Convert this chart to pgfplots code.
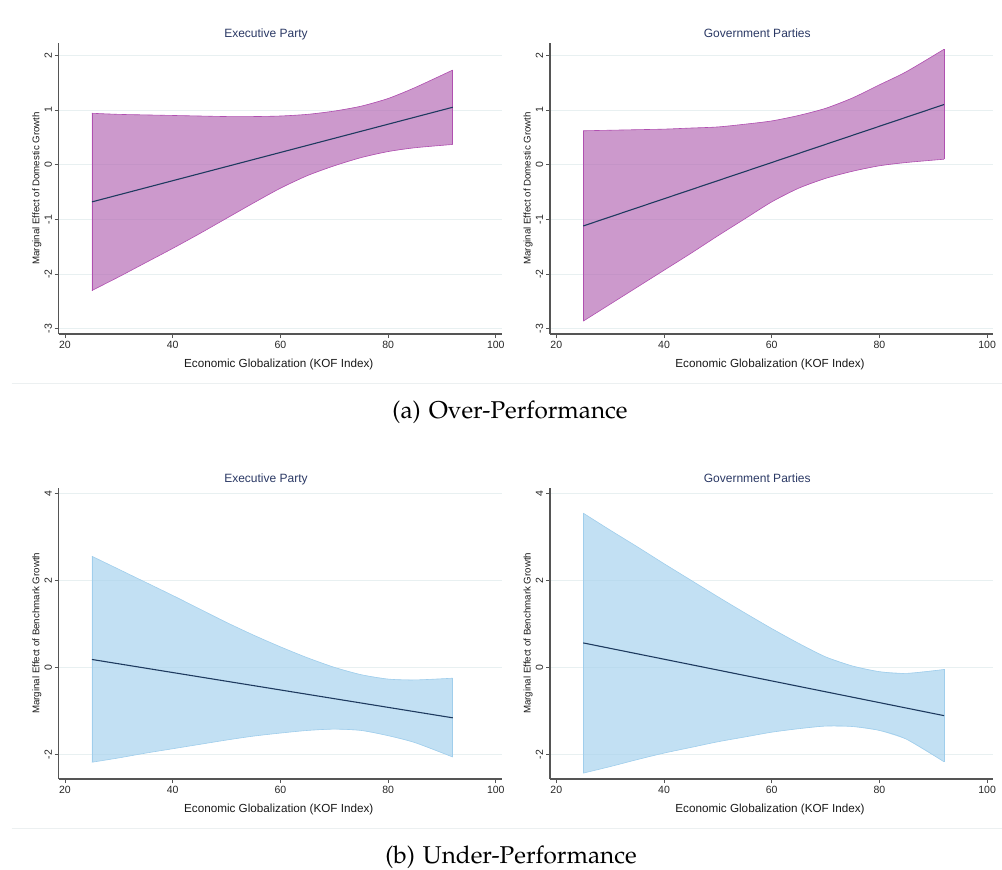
\documentclass[border=0pt]{standalone}
\usepackage[T1]{fontenc}
\usepackage{fontspec}
\setmainfont{Liberation Sans}
\usepackage{pgfplots}
\pgfplotsset{compat=1.18}

\definecolor{bandP}{RGB}{182,109,182}
\definecolor{bandPedge}{RGB}{176,80,176}
\definecolor{bandB}{RGB}{168,211,238}
\definecolor{bandBedge}{RGB}{160,206,236}
\definecolor{navyline}{RGB}{30,58,95}
\definecolor{titlecol}{RGB}{42,56,100}
\definecolor{gridc}{RGB}{232,240,241}
\definecolor{axisc}{RGB}{85,85,85}
\definecolor{sepc}{RGB}{236,240,241}

\pgfplotsset{
  stata/.style={
    scale only axis, width=443.1pt, height=291.3pt,
    xmin=18.83, xmax=101.11,
    axis x line*=bottom, axis y line*=left,
    axis line style={draw=axisc, line width=1.2pt},
    xtick={20,40,60,80,100},
    xticklabels={20,40,60,80,100},
    tick align=outside, major tick length=4pt,
    tick style={draw=axisc, line width=0.9pt},
    ymajorgrids, grid style={draw=gridc, line width=0.9pt},
    ticklabel style={font=\fontsize{10.5}{12}\selectfont, text=black!85},
    xticklabel style={anchor=north, inner ysep=3pt},
    yticklabel style={rotate=90, anchor=south, inner ysep=2.6pt, inner xsep=0pt},
    every axis title/.style={at={(axis description cs:0.5,1)}, anchor=base, yshift=5.4pt, xshift=-14.3pt,
      font=\fontsize{12}{14}\selectfont, text=titlecol},
    every axis x label/.style={at={(axis description cs:0.5,0)}, anchor=base, yshift=-33.6pt, xshift=-1.5pt,
      font=\fontsize{11.7}{14}\selectfont, text=black!90},
    every axis y label/.style={at={(axis description cs:-0.0438,0.5)}, rotate=90, anchor=base,
      font=\fontsize{9.7}{12}\selectfont, text=black!90},
    xlabel={Economic Globalization (KOF Index)},
  },
  over/.style={stata, ymin=-3.095, ymax=2.23, ytick={-3,-2,-1,0,1,2}, yticklabels={-3,-2,-1,0,1,2},
    ylabel={Marginal Effect of Domestic Growth}},
  under/.style={stata, ymin=-2.565, ymax=4.124, ytick={-2,0,2,4}, yticklabels={-2,0,2,4},
    ylabel={Marginal Effect of Benchmark Growth}},
  edgep/.style={draw=bandPedge, line width=0.6pt},
  edgeb/.style={draw=bandBedge, line width=0.6pt},
  fillp/.style={fill=bandP, fill opacity=0.7, draw=none},
  fillb/.style={fill=bandB, fill opacity=0.7, draw=none},
  est/.style={draw=navyline, line width=1.1pt},
}

\begin{document}
\begin{tikzpicture}
\path[use as bounding box] (0pt,0pt) rectangle (1002pt,-870pt);

% (a) Over-Performance, Executive Party
\begin{axis}[over, at={(58.7pt,-334pt)}, anchor=south west, title={Executive Party}]
\addplot[fillp] coordinates {
 (25,0.94) (30,0.92) (35,0.91) (40,0.90) (45,0.89) (50,0.88) (55,0.88) (60,0.89)
 (65,0.92) (70,0.98) (75,1.07) (80,1.21) (85,1.41) (92,1.73)
 (92,0.37) (85,0.31) (80,0.24) (75,0.13) (70,-0.02) (65,-0.20) (60,-0.43) (55,-0.70)
 (50,-0.98) (45,-1.26) (40,-1.53) (35,-1.79) (30,-2.05) (25,-2.30) (25,0.94)};
\addplot[edgep, smooth] coordinates {
 (25,0.94) (30,0.92) (35,0.91) (40,0.90) (45,0.89) (50,0.88) (55,0.88) (60,0.89)
 (65,0.92) (70,0.98) (75,1.07) (80,1.21) (85,1.41) (92,1.73)};
\addplot[edgep, smooth] coordinates {
 (25,-2.30) (30,-2.05) (35,-1.79) (40,-1.53) (45,-1.26) (50,-0.98) (55,-0.70) (60,-0.43)
 (65,-0.20) (70,-0.02) (75,0.13) (80,0.24) (85,0.31) (92,0.37)};
\addplot[edgep] coordinates {(25,0.94) (25,-2.30)};
\addplot[edgep] coordinates {(92,1.73) (92,0.37)};
\addplot[est] coordinates {(25,-0.68) (92,1.05)};
\end{axis}

% (a) Over-Performance, Government Parties
\begin{axis}[over, at={(550pt,-334pt)}, anchor=south west, title={Government Parties}]
\addplot[fillp] coordinates {
 (25,0.62) (30,0.63) (35,0.64) (40,0.65) (45,0.67) (50,0.69) (55,0.74) (60,0.80)
 (65,0.90) (70,1.03) (75,1.22) (80,1.46) (85,1.70) (92,2.11)
 (92,0.10) (85,0.04) (80,-0.02) (75,-0.12) (70,-0.25) (65,-0.43) (60,-0.68) (55,-0.99)
 (50,-1.30) (45,-1.62) (40,-1.93) (35,-2.24) (30,-2.55) (25,-2.86) (25,0.62)};
\addplot[edgep, smooth] coordinates {
 (25,0.62) (30,0.63) (35,0.64) (40,0.65) (45,0.67) (50,0.69) (55,0.74) (60,0.80)
 (65,0.90) (70,1.03) (75,1.22) (80,1.46) (85,1.70) (92,2.11)};
\addplot[edgep, smooth] coordinates {
 (25,-2.86) (30,-2.55) (35,-2.24) (40,-1.93) (45,-1.62) (50,-1.30) (55,-0.99) (60,-0.68)
 (65,-0.43) (70,-0.25) (75,-0.12) (80,-0.02) (85,0.04) (92,0.10)};
\addplot[edgep] coordinates {(25,0.62) (25,-2.86)};
\addplot[edgep] coordinates {(92,2.11) (92,0.10)};
\addplot[est] coordinates {(25,-1.12) (92,1.10)};
\end{axis}

% (b) Under-Performance, Executive Party
\begin{axis}[under, at={(58.7pt,-779pt)}, anchor=south west, title={Executive Party}]
\addplot[fillb] coordinates {
 (25,2.55) (30,2.25) (35,1.95) (40,1.65) (45,1.34) (50,1.03) (55,0.74) (60,0.47)
 (65,0.22) (70,0.00) (75,-0.17) (80,-0.27) (85,-0.29) (92,-0.25)
 (92,-2.06) (85,-1.73) (80,-1.57) (75,-1.45) (70,-1.42) (65,-1.45) (60,-1.51) (55,-1.58)
 (50,-1.67) (45,-1.77) (40,-1.87) (35,-1.97) (30,-2.08) (25,-2.18) (25,2.55)};
\addplot[edgeb, smooth] coordinates {
 (25,2.55) (30,2.25) (35,1.95) (40,1.65) (45,1.34) (50,1.03) (55,0.74) (60,0.47)
 (65,0.22) (70,0.00) (75,-0.17) (80,-0.27) (85,-0.29) (92,-0.25)};
\addplot[edgeb, smooth] coordinates {
 (25,-2.18) (30,-2.08) (35,-1.97) (40,-1.87) (45,-1.77) (50,-1.67) (55,-1.58) (60,-1.51)
 (65,-1.45) (70,-1.42) (75,-1.45) (80,-1.57) (85,-1.73) (92,-2.06)};
\addplot[edgeb] coordinates {(25,2.55) (25,-2.18)};
\addplot[edgeb] coordinates {(92,-0.25) (92,-2.06)};
\addplot[est] coordinates {(25,0.18) (92,-1.16)};
\end{axis}

% (b) Under-Performance, Government Parties
\begin{axis}[under, at={(550pt,-779pt)}, anchor=south west, title={Government Parties}]
\addplot[fillb] coordinates {
 (25,3.54) (30,3.15) (35,2.77) (40,2.38) (45,2.00) (50,1.62) (55,1.25) (60,0.89)
 (65,0.55) (70,0.24) (75,0.03) (80,-0.10) (85,-0.14) (92,-0.05)
 (92,-2.17) (85,-1.65) (80,-1.45) (75,-1.36) (70,-1.35) (65,-1.41) (60,-1.49) (55,-1.60)
 (50,-1.71) (45,-1.84) (40,-1.97) (35,-2.12) (30,-2.28) (25,-2.43) (25,3.54)};
\addplot[edgeb, smooth] coordinates {
 (25,3.54) (30,3.15) (35,2.77) (40,2.38) (45,2.00) (50,1.62) (55,1.25) (60,0.89)
 (65,0.55) (70,0.24) (75,0.03) (80,-0.10) (85,-0.14) (92,-0.05)};
\addplot[edgeb, smooth] coordinates {
 (25,-2.43) (30,-2.28) (35,-2.12) (40,-1.97) (45,-1.84) (50,-1.71) (55,-1.60) (60,-1.49)
 (65,-1.41) (70,-1.35) (75,-1.36) (80,-1.45) (85,-1.65) (92,-2.17)};
\addplot[edgeb] coordinates {(25,3.54) (25,-2.43)};
\addplot[edgeb] coordinates {(92,-0.05) (92,-2.17)};
\addplot[est] coordinates {(25,0.56) (92,-1.11)};
\end{axis}

\draw[sepc, line width=0.8pt] (11.5pt,-383.3pt) -- (1002pt,-383.3pt);
\draw[sepc, line width=0.8pt] (11.5pt,-828.3pt) -- (1002pt,-828.3pt);

\node[anchor=base] at (510pt,-418.5pt) {\fontencoding{T1}\fontfamily{ppl}\fontsize{24.3}{27}\selectfont (a)\hspace{8pt}Over-Performance};
\node[anchor=base] at (511pt,-863.5pt) {\fontencoding{T1}\fontfamily{ppl}\fontsize{24.3}{27}\selectfont (b)\hspace{8pt}Under-Performance};
\end{tikzpicture}
\end{document}
